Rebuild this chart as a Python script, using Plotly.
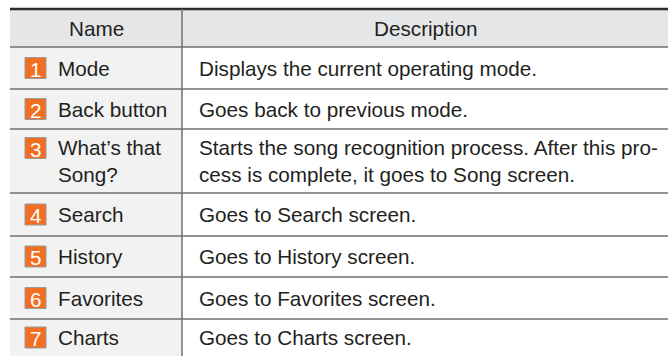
import plotly.graph_objects as go

# ---- data ----
header = ["Name", "Description"]
numbers = ["1", "2", "3", "4", "5", "6", "7"]
names = ["Mode", "Back button", "What’s that<br>Song?", "Search", "History",
         "Favorites", "Charts"]
descriptions = [
    "Displays the current operating mode.",
    "Goes back to previous mode.",
    "Starts the song recognition process. After this pro-<br>cess is complete, it goes to Song screen.",
    "Goes to Search screen.",
    "Goes to History screen.",
    "Goes to Favorites screen.",
    "Goes to Charts screen.",
]

# ---- layout / style ----
W, H = 668, 356
row_edges = [9, 47, 89, 129, 193, 236, 277, 319, 360]
x_left, x_sep, x_right = 10, 182, 672
FONT = "Liberation Sans, Arial, Helvetica, sans-serif"
FS = 20.7
TXT = "#231f20"
LINE_H = 26
HEADER_FILL = "#e5e6e8"
NAME_FILL = "#f2f2f2"
BADGE = "#f26e22"

fig = go.Figure()
shapes = []
annotations = []

shapes.append(dict(type="rect", xref="x", yref="y", x0=x_left, x1=x_right,
                   y0=row_edges[0], y1=row_edges[1], fillcolor=HEADER_FILL,
                   line=dict(width=0), layer="below"))
shapes.append(dict(type="rect", xref="x", yref="y", x0=x_left, x1=x_sep,
                   y0=row_edges[1], y1=row_edges[-1], fillcolor=NAME_FILL,
                   line=dict(width=0), layer="below"))

for y in row_edges[1:-1]:
    shapes.append(dict(type="line", xref="x", yref="y", x0=x_left, x1=x_right,
                       y0=y, y1=y, line=dict(color="#6f6f6f", width=1.5)))
shapes.append(dict(type="line", xref="x", yref="y", x0=x_left, x1=x_right,
                   y0=row_edges[0], y1=row_edges[0],
                   line=dict(color="#2b2b2b", width=2.5)))
shapes.append(dict(type="line", xref="x", yref="y", x0=x_sep, x1=x_sep,
                   y0=row_edges[0], y1=row_edges[-1],
                   line=dict(color="#707070", width=1.5)))

hy = (row_edges[0] + row_edges[1]) / 2 + 0.5
for txt, cx in zip(header, [(x_left + x_sep) / 2, (x_sep + W) / 2]):
    annotations.append(dict(x=cx, y=hy, xref="x", yref="y", text=txt,
                            showarrow=False, xanchor="center", yanchor="middle",
                            font=dict(family=FONT, size=FS, color=TXT)))

row_centers = [(row_edges[i + 1] + row_edges[i + 2]) / 2 for i in range(len(names))]
row_centers[-1] = (row_edges[-2] + H) / 2

for i, (num, nm, desc) in enumerate(zip(numbers, names, descriptions)):
    cy = row_centers[i]
    nlines = desc.count("<br>") + 1
    by = cy - (nlines - 1) * LINE_H / 2
    shapes.append(dict(type="rect", xref="x", yref="y", x0=25, x1=46,
                       y0=by - 10.5, y1=by + 10.5, fillcolor=BADGE,
                       line=dict(color="#9a9a9a", width=1)))
    annotations.append(dict(x=35.5, y=by + 1, xref="x", yref="y", text=num,
                            showarrow=False, xanchor="center", yanchor="middle",
                            font=dict(family=FONT, size=FS, color="white")))
    annotations.append(dict(x=56, y=cy, xref="x", yref="y", text=nm,
                            showarrow=False, xanchor="left", yanchor="middle",
                            align="left",
                            font=dict(family=FONT, size=FS, color=TXT)))
    annotations.append(dict(x=197, y=cy, xref="x", yref="y", text=desc,
                            showarrow=False, xanchor="left", yanchor="middle",
                            align="left",
                            font=dict(family=FONT, size=FS, color=TXT)))

fig.update_layout(
    width=W, height=H, margin=dict(l=0, r=0, t=0, b=0),
    paper_bgcolor="white", plot_bgcolor="white",
    xaxis=dict(range=[0, W], visible=False, fixedrange=True),
    yaxis=dict(range=[H, 0], visible=False, fixedrange=True),
    shapes=shapes, annotations=annotations, showlegend=False,
)
fig.write_html(
    "out.html",
    config={"displayModeBar": False},
    post_script="document.body.style.margin='0';document.body.style.overflow='hidden';",
)
